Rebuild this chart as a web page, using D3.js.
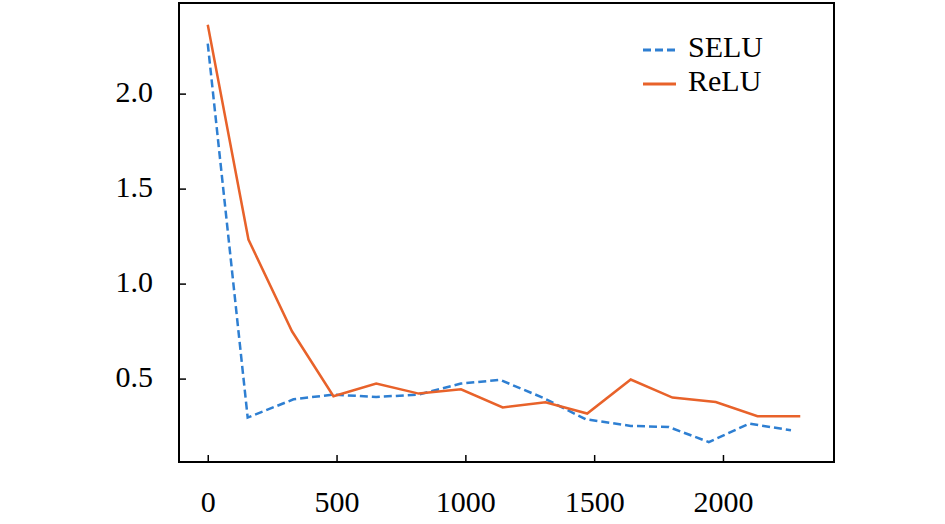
<!DOCTYPE html>
<html>
<head>
<meta charset="utf-8">
<script src="https://cdn.jsdelivr.net/npm/d3@7"></script>
<style>
  body { margin: 0; background: #fff; }
  text { font-family: "Liberation Serif", "Times New Roman", serif; }
</style>
</head>
<body>
<div id="container"></div>
<script>
// values
var seluX = [0, 155, 333, 488, 654, 819, 983, 1135, 1300, 1467, 1642, 1790, 1945, 2102, 2264]
var seluY = [2.263, 0.295, 0.391, 0.416, 0.403, 0.416, 0.474, 0.493, 0.40, 0.286, 0.251, 0.245, 0.166, 0.263, 0.228]
var reluX = [0, 158, 327, 488, 654, 819, 983, 1145, 1311, 1473, 1642, 1804, 1972, 2134, 2300]
var reluY = [2.363, 1.232, 0.749, 0.407, 0.474, 0.421, 0.444, 0.348, 0.375, 0.316, 0.495, 0.400, 0.377, 0.302, 0.302]
var xTicks = [0, 500, 1000, 1500, 2000]
var yTicks = [0.5, 1.0, 1.5, 2.0]
var seriesNames = ["SELU", "ReLU"]

var W = 945, H = 524
var box = { left: 179, right: 834, top: 3, bottom: 462 }

var svg = d3.select("#container").append("svg")
  .attr("width", W)
  .attr("height", H)

var x = d3.scaleLinear().domain([-111.6, 2431]).range([box.left, box.right])
var y = d3.scaleLinear().domain([0.061, 2.477]).range([box.bottom, box.top])

var xAxis = svg.append("g")
  .attr("transform", `translate(0, ${box.bottom})`)
  .call(d3.axisBottom(x).tickValues(xTicks).tickFormat(d3.format("d"))
    .tickSizeInner(-7).tickSizeOuter(0).tickPadding(29))
var yAxis = svg.append("g")
  .attr("transform", `translate(${box.left}, 0)`)
  .call(d3.axisLeft(y).tickValues(yTicks).tickFormat(d3.format(".1f"))
    .tickSizeInner(-7).tickSizeOuter(0).tickPadding(26))

;[xAxis, yAxis].forEach(function(a) {
  a.select(".domain").remove()
  a.selectAll(".tick line").attr("stroke", "#000").attr("stroke-width", 1.5)
  a.selectAll(".tick text")
    .attr("font-family", "Liberation Serif")
    .attr("font-size", 30)
    .attr("fill", "#000")
})
yAxis.selectAll(".tick text").attr("dy", "0.25em")

// frame
svg.append("rect")
  .attr("x", box.left).attr("y", box.top)
  .attr("width", box.right - box.left)
  .attr("height", box.bottom - box.top)
  .attr("fill", "none")
  .attr("stroke", "#000")
  .attr("stroke-width", 2)

var colors = { SELU: "#2e7fd2", ReLU: "#e8622a" }
var dashes = { SELU: "8,4", ReLU: null }

var series = [
  { key: "SELU", value: seluX.map((d, i) => ({ x: d, y: seluY[i] })) },
  { key: "ReLU", value: reluX.map((d, i) => ({ x: d, y: reluY[i] })) }
]

var line = d3.line().x(d => x(d.x)).y(d => y(d.y))

svg.selectAll(".series")
  .data(series)
  .enter().append("path")
  .attr("class", "series")
  .attr("fill", "none")
  .attr("stroke", d => colors[d.key])
  .attr("stroke-width", 2.5)
  .attr("stroke-dasharray", d => dashes[d.key])
  .attr("d", d => line(d.value))

// legend
var legend = svg.selectAll(".legend")
  .data(seriesNames)
  .enter().append("g")
  .attr("class", "legend")
  .attr("transform", (d, i) => `translate(643, ${50 + i * 34})`)

legend.append("line")
  .attr("x1", 0).attr("x2", 33)
  .attr("y1", 0).attr("y2", 0)
  .attr("stroke", d => colors[d])
  .attr("stroke-width", 3)
  .attr("stroke-dasharray", d => dashes[d])

legend.append("text")
  .attr("x", 45)
  .attr("y", 7)
  .attr("font-size", 30)
  .attr("fill", "#000")
  .text(d => d)
</script>
</body>
</html>
